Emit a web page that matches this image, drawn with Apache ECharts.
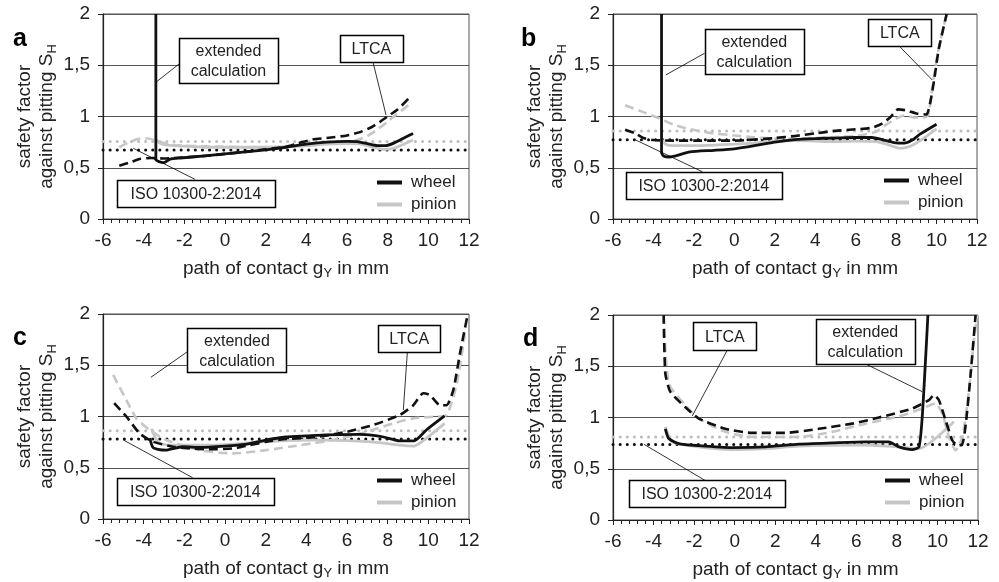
<!DOCTYPE html>
<html>
<head>
<meta charset="utf-8">
<script src="https://cdn.jsdelivr.net/npm/echarts@6/dist/echarts.min.js"></script>
<style>
  html, body { margin: 0; background: #fff; }
  #chart { width: 999px; height: 582px; }
</style>
</head>
<body>
<div id="chart"></div>
<script>
// values, [path of contact gY (mm), safety factor SH]
const xTicks = [-6, -4, -2, 0, 2, 4, 6, 8, 10, 12]
const yTicks = [0, 0.5, 1, 1.5, 2]

// panel a
const aWheelExt = [[-3.4,2.0],[-3.4,0.58],[-3.25,0.56],[-3.0,0.55],[-2.7,0.585],[-2.2,0.595],[-1,0.615],[0,0.635],[1,0.655],[2,0.675],[3,0.70],[4,0.73],[5,0.75],[6,0.757],[6.5,0.755],[7,0.735],[7.5,0.715],[7.9,0.715],[8.3,0.74],[8.8,0.79],[9.25,0.835]]
const aPinionExt = [[-3.4,0.78],[-3.2,0.74],[-2.8,0.72],[-2,0.71],[-1,0.70],[0,0.70],[1,0.70],[2,0.70],[3,0.705],[4,0.715],[5,0.73],[6,0.735],[6.7,0.73],[7.3,0.70],[7.8,0.68],[8.3,0.69],[8.8,0.73],[9.25,0.77]]
const aWheelLtca = [[-5.2,0.52],[-4.7,0.55],[-4.2,0.585],[-3.6,0.595],[-3,0.59],[-2.5,0.595],[-1,0.615],[0,0.635],[1,0.655],[2,0.68],[3,0.705],[3.6,0.74],[4.3,0.775],[5,0.79],[6,0.815],[6.6,0.845],[7.2,0.895],[7.6,0.945],[8,1.0],[8.5,1.07],[9.15,1.2]]
const aPinionLtca = [[-5.2,0.70],[-4.8,0.74],[-4.3,0.78],[-3.8,0.785],[-3.3,0.76],[-2.8,0.73],[-2,0.715],[-1,0.71],[0,0.705],[1,0.70],[2,0.70],[3,0.705],[4,0.715],[5,0.735],[6,0.75],[6.5,0.77],[7,0.81],[7.5,0.875],[8,0.95],[8.3,1.0],[9.15,1.13]]
const aIso = [0.674, 0.756]

// panel b
const bWheelExt = [[-3.6,2.0],[-3.6,0.65],[-3.5,0.615],[-3.2,0.605],[-2.9,0.615],[-2.2,0.655],[-1,0.67],[0,0.685],[1,0.715],[2,0.75],[3,0.775],[4,0.785],[5,0.79],[6,0.795],[6.8,0.795],[7.3,0.775],[7.9,0.745],[8.4,0.74],[8.8,0.77],[9.2,0.83],[10.0,0.925]]
const bPinionExt = [[-3.6,0.78],[-3.4,0.73],[-3,0.715],[-2,0.715],[-1,0.72],[0,0.73],[1,0.74],[2,0.76],[3,0.765],[4,0.76],[5,0.755],[6,0.76],[7,0.755],[7.6,0.725],[8.2,0.69],[8.7,0.71],[9.3,0.78],[10.0,0.88]]
const bWheelLtca = [[-5.4,0.87],[-4.9,0.835],[-4.5,0.79],[-4,0.77],[-3,0.765],[-2,0.765],[-1,0.765],[0,0.765],[1,0.775],[2,0.79],[3,0.81],[4,0.835],[5,0.86],[6,0.875],[6.8,0.89],[7.3,0.93],[7.7,0.99],[8.1,1.07],[8.5,1.06],[9.0,1.03],[9.5,1.02],[9.7,1.15],[9.9,1.38],[10.1,1.65],[10.5,2.0]]
const bPinionLtca = [[-5.4,1.11],[-4.6,1.05],[-3.7,0.98],[-3,0.92],[-2.4,0.885],[-1.2,0.84],[0,0.815],[0.8,0.80],[2,0.785],[3,0.785],[4,0.79],[5,0.80],[6,0.81],[7,0.85],[7.5,0.92],[8.0,0.98],[8.4,1.01],[8.9,0.99],[9.4,0.99],[9.6,1.02],[9.8,1.3],[10.0,1.55],[10.2,1.75],[10.5,2.0]]
const bIso = [0.772, 0.858]

// panel c
const cWheelExt = [[-3.7,0.79],[-3.55,0.70],[-3.3,0.68],[-2.9,0.672],[-2.5,0.69],[-2.06,0.705],[-1.2,0.698],[0,0.71],[1,0.727],[2,0.77],[3,0.80],[4,0.81],[5,0.82],[6.6,0.825],[7.3,0.815],[7.8,0.80],[8.6,0.763],[9.3,0.763],[9.9,0.868],[10.8,1.005]]
const cPinionExt = [[-3.62,0.88],[-3.4,0.78],[-3.2,0.737],[-2.5,0.72],[-1,0.72],[0,0.725],[1,0.74],[2,0.754],[3,0.765],[4,0.77],[5,0.77],[6,0.765],[7,0.754],[8,0.735],[8.6,0.72],[9.3,0.711],[9.9,0.786],[10.8,0.933]]
const cWheelLtca = [[-5.45,1.13],[-4.85,1.0],[-4.2,0.835],[-3.54,0.754],[-2.55,0.705],[-1.5,0.685],[-0.9,0.68],[0.4,0.688],[1.2,0.72],[2.04,0.754],[3,0.78],[4.5,0.80],[5.98,0.85],[7.29,0.917],[8.6,1.015],[9.26,1.11],[9.75,1.227],[10.08,1.21],[10.57,1.11],[10.9,1.11],[11.23,1.26],[11.56,1.62],[11.9,1.96]]
const cPinionLtca = [[-5.5,1.406],[-4.85,1.16],[-4.36,0.982],[-3.7,0.868],[-2.88,0.77],[-1.24,0.672],[0.4,0.64],[2.04,0.672],[3.68,0.72],[5.32,0.77],[6.96,0.85],[8.28,0.933],[9.26,0.982],[10.25,0.998],[10.9,1.015],[11.4,1.32],[11.8,1.81]]
const cIso = [0.78, 0.86]

// panel d
const dWheelExt = [[-3.42,0.89],[-3.25,0.795],[-2.76,0.746],[-1.77,0.726],[-0.13,0.707],[1.52,0.713],[3.16,0.74],[4.81,0.752],[6.45,0.762],[7.6,0.762],[8.1,0.713],[8.76,0.687],[9.09,0.713],[9.25,1.006],[9.42,1.59],[9.53,2.0]]
const dPinionExt = [[-3.42,0.91],[-3.09,0.762],[-1.77,0.713],[-0.13,0.687],[1.52,0.697],[3.16,0.72],[6.45,0.73],[8.1,0.713],[9.09,0.697],[10.81,0.958]]
const dWheelLtca = [[-3.5,2.0],[-3.42,1.43],[-3.17,1.25],[-2.43,1.10],[-1.77,0.99],[-0.46,0.89],[0.86,0.85],[2.5,0.85],[4.15,0.89],[5.8,0.94],[7.11,1.0],[8.76,1.088],[9.58,1.17],[9.83,1.22],[10.07,1.17],[10.4,0.974],[10.73,0.778],[10.98,0.73],[11.2,0.73],[11.4,0.94],[11.64,1.43],[11.88,2.0]]
const dPinionLtca = [[-3.5,2.0],[-3.25,1.33],[-2.43,1.12],[-1.77,0.99],[-0.46,0.86],[0.86,0.81],[3.16,0.81],[4.81,0.86],[6.45,0.94],[8.1,1.01],[9.25,1.088],[9.91,1.137],[10.24,1.04],[10.57,0.81],[10.9,0.68],[11.23,0.81],[11.56,1.27],[11.8,1.76],[11.97,2.0]]
const dIso = [0.736, 0.81]

const panelLetters = ['a', 'b', 'c', 'd']
const seriesNames = ['wheel', 'pinion']

const panels = [
  { wheelExt: aWheelExt, pinionExt: aPinionExt, wheelLtca: aWheelLtca, pinionLtca: aPinionLtca, iso: aIso },
  { wheelExt: bWheelExt, pinionExt: bPinionExt, wheelLtca: bWheelLtca, pinionLtca: bPinionLtca, iso: bIso },
  { wheelExt: cWheelExt, pinionExt: cPinionExt, wheelLtca: cWheelLtca, pinionLtca: cPinionLtca, iso: cIso },
  { wheelExt: dWheelExt, pinionExt: dPinionExt, wheelLtca: dWheelLtca, pinionLtca: dPinionLtca, iso: dIso }
]

// layout
const FONT = "'Liberation Sans', Arial, sans-serif"
const BLACK = '#111'
const GREY = '#c6c6c6'
const grids = [
  { left: 103, top: 14, width: 366, height: 205 },
  { left: 613, top: 14, width: 364, height: 205 },
  { left: 103, top: 314, width: 366, height: 205 },
  { left: 613, top: 315, width: 365, height: 205 }
]
const legendPos = [[372, 169], [879, 167], [372, 467], [880, 467]]
const letterPos = [[13, 27], [521, 27], [13, 326], [523, 327]]

// callout boxes, placed in data coordinates of their panel
const notes = [
  [
    { text: 'extended\ncalculation', at: [0.17, 1.546], w: 99, h: 45, from: [-2.21, 1.52], to: [-3.36, 1.34] },
    { text: 'LTCA', at: [7.2, 1.663], w: 63, h: 27, from: [7.28, 1.53], to: [7.92, 1.015] },
    { text: 'ISO 10300-2:2014', at: [-1.43, 0.249], w: 158, h: 27, from: [-1.48, 0.387], to: [-4.51, 0.69] }
  ],
  [
    { text: 'extended\ncalculation', at: [0.99, 1.632], w: 99, h: 45, from: [-1.47, 1.617], to: [-3.39, 1.405] },
    { text: 'LTCA', at: [8.18, 1.82], w: 63, h: 27, from: [8.14, 1.69], to: [9.79, 1.356] },
    { text: 'ISO 10300-2:2014', at: [-1.51, 0.329], w: 156, h: 27, from: [-1.58, 0.461], to: [-4.88, 0.771] }
  ],
  [
    { text: 'extended\ncalculation', at: [0.59, 1.644], w: 99, h: 44, from: [-1.85, 1.632], to: [-3.65, 1.382] },
    { text: 'LTCA', at: [9.06, 1.763], w: 62, h: 27, from: [8.97, 1.632], to: [8.77, 1.063] },
    { text: 'ISO 10300-2:2014', at: [-1.46, 0.27], w: 157, h: 27, from: [-1.59, 0.403], to: [-5.0, 0.771] }
  ],
  [
    { text: 'LTCA', at: [-0.48, 1.793], w: 63, h: 28, from: [-0.36, 1.659], to: [-2.09, 1.015] },
    { text: 'extended\ncalculation', at: [6.44, 1.74], w: 99, h: 45, from: [6.46, 1.522], to: [9.25, 1.252] },
    { text: 'ISO 10300-2:2014', at: [-1.37, 0.254], w: 156, h: 27, from: [-1.43, 0.383], to: [-4.47, 0.738] }
  ]
]

const lineSeries = (name, idx, data, color, dash, width, z, smooth) => ({
  name,
  type: 'line',
  xAxisIndex: idx,
  yAxisIndex: idx,
  data,
  symbol: 'none',
  smooth: smooth,
  silent: true,
  z,
  itemStyle: { color },
  lineStyle: { color, width, type: dash, cap: 'butt', join: 'round' }
})

const series = []
panels.forEach((p, i) => {
  const dots = [0.1, 7]
  const x0 = xTicks[0]
  const x1 = xTicks[xTicks.length - 1]
  series.push({ ...lineSeries('pinion ISO', i, [[x0, p.iso[1]], [x1, p.iso[1]]], '#bdbdbd', dots, 3, 2, false), lineStyle: { color: '#bdbdbd', width: 3, type: dots, cap: 'round' } })
  series.push({ ...lineSeries('wheel ISO', i, [[x0, p.iso[0]], [x1, p.iso[0]]], BLACK, dots, 3, 3, false), lineStyle: { color: BLACK, width: 3, type: dots, cap: 'round' } })
  series.push(lineSeries('pinion LTCA', i, p.pinionLtca, GREY, [9, 5], 2.6, 4, 0.2))
  series.push(lineSeries('pinion', i, p.pinionExt, GREY, 'solid', 2.8, 5, 0.2))
  series.push(lineSeries('wheel LTCA', i, p.wheelLtca, BLACK, [9, 5], 2.6, 6, 0.2))
  series.push(lineSeries('wheel', i, p.wheelExt, BLACK, 'solid', 2.8, 7, 0.2))
})

const tickLabel = { fontSize: 19, color: '#222', fontFamily: FONT }
const subStyle = { fontSize: 13, color: '#222', fontFamily: FONT, padding: [10, 0, 0, 0] }

const chart = echarts.init(document.getElementById('chart'))
chart.setOption({
  animation: false,
  backgroundColor: '#fff',
  grid: grids.map(g => ({ ...g, show: true, borderColor: '#555', borderWidth: 1, backgroundColor: 'transparent' })),
  xAxis: grids.map((g, i) => ({
    type: 'value',
    gridIndex: i,
    min: xTicks[0],
    max: xTicks[xTicks.length - 1],
    interval: 2,
    name: 'path of contact g{sub|Y} in mm',
    nameLocation: 'middle',
    nameGap: 38,
    nameTextStyle: { fontSize: 19, color: '#222', fontFamily: FONT, rich: { sub: subStyle } },
    axisLine: { onZero: false, lineStyle: { color: '#222', width: 1.2 } },
    axisTick: { length: 5, lineStyle: { color: '#222' } },
    minorTick: { show: true, splitNumber: 5, length: 4, lineStyle: { color: '#222' } },
    splitLine: { show: false },
    axisLabel: { ...tickLabel, margin: 12 }
  })),
  yAxis: grids.map((g, i) => ({
    type: 'value',
    gridIndex: i,
    min: yTicks[0],
    max: yTicks[yTicks.length - 1],
    interval: 0.5,
    name: 'safety factor\nagainst pitting S{sub|H}',
    nameLocation: 'middle',
    nameRotate: 90,
    nameGap: 45,
    nameTextStyle: { fontSize: 19, lineHeight: 22, color: '#222', fontFamily: FONT, rich: { sub: subStyle } },
    axisLine: { show: true, onZero: false, lineStyle: { color: '#222', width: 1.2 } },
    axisTick: { show: true, length: 5, lineStyle: { color: '#222' } },
    splitLine: { show: true, lineStyle: { color: '#555', width: 1 } },
    axisLabel: { ...tickLabel, margin: 13, formatter: v => String(v).replace('.', ',') }
  })),
  legend: grids.map((g, i) => ({
    data: seriesNames,
    orient: 'vertical',
    left: legendPos[i][0],
    top: legendPos[i][1],
    icon: 'rect',
    itemWidth: 25,
    itemHeight: 4,
    itemGap: 5,
    selectedMode: false,
    textStyle: { fontSize: 17, color: '#222', fontFamily: FONT, padding: [0, 0, 0, 4] }
  })),
  series
})

// panel letters and callouts
const graphics = []
panelLetters.forEach((t, i) => {
  graphics.push({
    type: 'text', z: 100,
    style: { text: t, x: letterPos[i][0], y: letterPos[i][1], font: 'bold 25px ' + FONT, fill: '#000', verticalAlign: 'alphabetic' }
  })
})
notes.forEach((list, i) => {
  list.forEach(n => {
    const c = chart.convertToPixel({ gridIndex: i }, n.at)
    const p1 = chart.convertToPixel({ gridIndex: i }, n.from)
    const p2 = chart.convertToPixel({ gridIndex: i }, n.to)
    graphics.push({ type: 'line', z: 100, shape: { x1: p1[0], y1: p1[1], x2: p2[0], y2: p2[1] }, style: { stroke: '#000', lineWidth: 0.8 } })
    graphics.push({ type: 'rect', z: 101, shape: { x: Math.round(c[0] - n.w / 2) + 0.5, y: Math.round(c[1] - n.h / 2) + 0.5, width: n.w, height: n.h }, style: { fill: '#fff', stroke: '#000', lineWidth: 1.5 } })
    graphics.push({ type: 'text', z: 102, style: { text: n.text, x: c[0], y: c[1] + 1, font: '16px ' + FONT, fill: '#222', align: 'center', verticalAlign: 'middle', lineHeight: 20 } })
  })
})
chart.setOption({ graphic: graphics })
</script>
</body>
</html>
